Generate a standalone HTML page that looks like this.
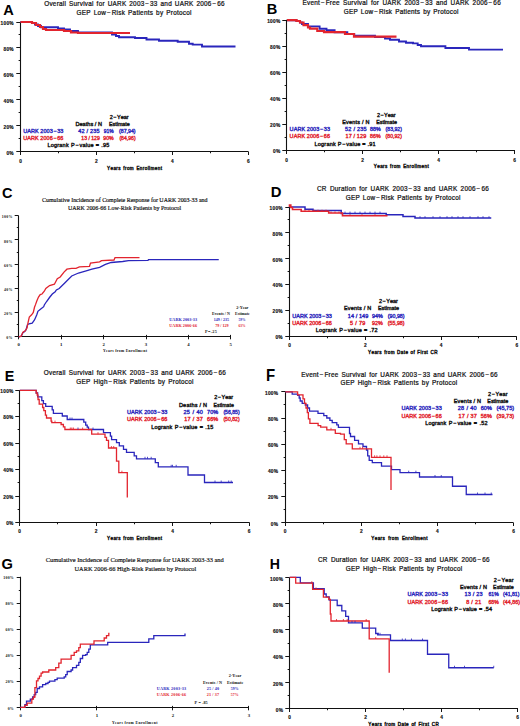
<!DOCTYPE html>
<html><head><meta charset="utf-8"><style>
html,body{margin:0;padding:0;background:#fff;}
svg{display:block;}
text{font-kerning:none;}
</style></head><body>
<svg width="520" height="726" viewBox="0 0 520 726" shape-rendering="geometricPrecision">
<rect width="520" height="726" fill="#fff"/>
<text x="3.39" y="14.70" font-family='"Liberation Sans", sans-serif' font-size="14.24" font-weight="bold" fill="#000" transform="translate(3.75 0) scale(1.025 1) translate(-3.75 0)">A</text>
<text x="44.20" y="5.64" font-family='"Liberation Sans", sans-serif' font-size="6.4" font-weight="normal" fill="#111" stroke="#111" stroke-width="0.22" letter-spacing="0.25" word-spacing="0.83">Overall Survival for UARK 2003 − 33 and UARK 2006 − 66</text>
<text x="76.50" y="15.24" font-family='"Liberation Sans", sans-serif' font-size="6.4" font-weight="normal" fill="#111" stroke="#111" stroke-width="0.22" letter-spacing="0.25" word-spacing="0.91">GEP Low − Risk Patients by Protocol</text>
<path d="M20.50,21.70V151.50H248.25" fill="none" stroke="#111" stroke-width="1.1"/>
<path d="M16.30,151.50H20.50M18.61,138.50H20.50M16.30,125.50H20.50M18.61,112.50H20.50M16.30,99.50H20.50M18.61,86.50H20.50M16.30,73.50H20.50M18.61,60.50H20.50M16.30,47.50H20.50M18.61,34.50H20.50M16.30,22.50H20.50M20.50,151.50V155.00M58.50,151.50V153.25M96.50,151.50V155.00M134.50,151.50V153.25M172.50,151.50V155.00M210.50,151.50V153.25M248.50,151.50V155.00" fill="none" stroke="#111" stroke-width="0.99"/>
<text x="13.85" y="154.72" font-family='"Liberation Sans", sans-serif' font-size="4.8" font-weight="bold" fill="#111" stroke="#111" stroke-width="0.15" text-anchor="end" letter-spacing="0.25">0%</text>
<text x="13.85" y="128.82" font-family='"Liberation Sans", sans-serif' font-size="4.8" font-weight="bold" fill="#111" stroke="#111" stroke-width="0.15" text-anchor="end" letter-spacing="0.25">20%</text>
<text x="13.85" y="102.92" font-family='"Liberation Sans", sans-serif' font-size="4.8" font-weight="bold" fill="#111" stroke="#111" stroke-width="0.15" text-anchor="end" letter-spacing="0.25">40%</text>
<text x="13.85" y="77.02" font-family='"Liberation Sans", sans-serif' font-size="4.8" font-weight="bold" fill="#111" stroke="#111" stroke-width="0.15" text-anchor="end" letter-spacing="0.25">60%</text>
<text x="13.85" y="51.12" font-family='"Liberation Sans", sans-serif' font-size="4.8" font-weight="bold" fill="#111" stroke="#111" stroke-width="0.15" text-anchor="end" letter-spacing="0.25">80%</text>
<text x="13.85" y="25.22" font-family='"Liberation Sans", sans-serif' font-size="4.8" font-weight="bold" fill="#111" stroke="#111" stroke-width="0.15" text-anchor="end" letter-spacing="0.25">100%</text>
<text x="20.50" y="162.92" font-family='"Liberation Sans", sans-serif' font-size="4.8" font-weight="bold" fill="#111" stroke="#111" stroke-width="0.15" text-anchor="middle" letter-spacing="0">0</text>
<text x="96.42" y="162.92" font-family='"Liberation Sans", sans-serif' font-size="4.8" font-weight="bold" fill="#111" stroke="#111" stroke-width="0.15" text-anchor="middle" letter-spacing="0">2</text>
<text x="172.34" y="162.92" font-family='"Liberation Sans", sans-serif' font-size="4.8" font-weight="bold" fill="#111" stroke="#111" stroke-width="0.15" text-anchor="middle" letter-spacing="0">4</text>
<text x="248.26" y="162.92" font-family='"Liberation Sans", sans-serif' font-size="4.8" font-weight="bold" fill="#111" stroke="#111" stroke-width="0.15" text-anchor="middle" letter-spacing="0">6</text>
<text x="107.00" y="169.95" font-family='"Liberation Sans", sans-serif' font-size="4.6" font-weight="normal" fill="#111" stroke="#111" stroke-width="0.38" letter-spacing="0.40" word-spacing="0.63">Years from Enrollment</text>
<path d="M20.5,22 H32 V23 H35 V24.5 H38 V26 H41 V27.3 H58 V28.5 H64 V29.5 H70 V31 H78 V32.5 H112 V34.5 H116 V36 H119 V37.2 H135 V38 H146.5 V39.5 H159 V40.7 H177.7 V41.8 H189 V43.7 H192.7 V44.6 H202 V46.5 H235.5" fill="none" stroke="#2a26bc" stroke-width="1.9" />
<path d="M20.5,22 H32 V23 H36 V25 H40 V27 H43 V29 H46 V30 H64 V31 H71 V32.5 H78 V33 H130" fill="none" stroke="#e2242e" stroke-width="2.2" />
<text x="109.80" y="118.67" font-family='"Liberation Sans", sans-serif' font-size="5.5" font-weight="normal" fill="#111" stroke="#111" stroke-width="0.38" textLength="18.90" lengthAdjust="spacing">2 − Year</text>
<text x="75.40" y="125.77" font-family='"Liberation Sans", sans-serif' font-size="5.5" font-weight="normal" fill="#111" stroke="#111" stroke-width="0.38" textLength="26.60" lengthAdjust="spacing">Deaths / N</text>
<text x="109.00" y="125.77" font-family='"Liberation Sans", sans-serif' font-size="5.5" font-weight="normal" fill="#111" stroke="#111" stroke-width="0.38" textLength="20.80" lengthAdjust="spacingAndGlyphs">Estimate</text>
<text x="23.20" y="133.07" font-family='"Liberation Sans", sans-serif' font-size="5.5" font-weight="normal" fill="#2a26bc" stroke="#2a26bc" stroke-width="0.38" textLength="40.20" lengthAdjust="spacing">UARK 2003 − 33</text>
<text x="78.20" y="133.07" font-family='"Liberation Sans", sans-serif' font-size="5.5" font-weight="normal" fill="#2a26bc" stroke="#2a26bc" stroke-width="0.38" letter-spacing="0.21" word-spacing="0.00">42 / 235</text>
<text x="103.80" y="133.07" font-family='"Liberation Sans", sans-serif' font-size="5.5" font-weight="normal" fill="#2a26bc" stroke="#2a26bc" stroke-width="0.38" textLength="9.90" lengthAdjust="spacingAndGlyphs">91%</text>
<text x="119.00" y="133.07" font-family='"Liberation Sans", sans-serif' font-size="5.5" font-weight="normal" fill="#2a26bc" stroke="#2a26bc" stroke-width="0.38" textLength="16.60" lengthAdjust="spacingAndGlyphs">(87,94)</text>
<text x="23.20" y="139.97" font-family='"Liberation Sans", sans-serif' font-size="5.5" font-weight="normal" fill="#e2242e" stroke="#e2242e" stroke-width="0.38" textLength="40.20" lengthAdjust="spacing">UARK 2006 − 66</text>
<text x="81.30" y="139.97" font-family='"Liberation Sans", sans-serif' font-size="5.5" font-weight="normal" fill="#e2242e" stroke="#e2242e" stroke-width="0.38" textLength="18.50" lengthAdjust="spacingAndGlyphs">13 / 129</text>
<text x="103.30" y="139.97" font-family='"Liberation Sans", sans-serif' font-size="5.5" font-weight="normal" fill="#e2242e" stroke="#e2242e" stroke-width="0.38" textLength="10.40" lengthAdjust="spacingAndGlyphs">90%</text>
<text x="119.40" y="139.97" font-family='"Liberation Sans", sans-serif' font-size="5.5" font-weight="normal" fill="#e2242e" stroke="#e2242e" stroke-width="0.38" textLength="16.20" lengthAdjust="spacingAndGlyphs">(84,96)</text>
<text x="47.50" y="146.97" font-family='"Liberation Sans", sans-serif' font-size="5.5" font-weight="normal" fill="#111" stroke="#111" stroke-width="0.38" letter-spacing="0.21" word-spacing="0.30">Logrank P − value = .95</text>
<text x="266.84" y="14.40" font-family='"Liberation Sans", sans-serif' font-size="14.39" font-weight="bold" fill="#000" transform="translate(267.80 0) scale(1.014 1) translate(-267.80 0)">B</text>
<text x="302.50" y="5.14" font-family='"Liberation Sans", sans-serif' font-size="6.4" font-weight="normal" fill="#111" stroke="#111" stroke-width="0.22" letter-spacing="0.25" word-spacing="1.20">Event − Free Survival for UARK 2003 − 33 and UARK 2006 − 66</text>
<text x="343.75" y="13.84" font-family='"Liberation Sans", sans-serif' font-size="6.4" font-weight="normal" fill="#111" stroke="#111" stroke-width="0.22" letter-spacing="0.25" word-spacing="0.85">GEP Low − Risk Patients by Protocol</text>
<path d="M286.50,19.70V150.50H515.00" fill="none" stroke="#111" stroke-width="1.1"/>
<path d="M282.30,150.50H286.50M284.61,137.50H286.50M282.30,124.50H286.50M284.61,111.50H286.50M282.30,98.50H286.50M284.61,85.50H286.50M282.30,72.50H286.50M284.61,59.50H286.50M282.30,46.50H286.50M284.61,33.50H286.50M282.30,20.50H286.50M286.50,150.50V154.00M324.50,150.50V152.25M362.50,150.50V154.00M400.50,150.50V152.25M438.50,150.50V154.00M476.50,150.50V152.25M514.50,150.50V154.00" fill="none" stroke="#111" stroke-width="0.99"/>
<text x="280.45" y="153.32" font-family='"Liberation Sans", sans-serif' font-size="4.8" font-weight="bold" fill="#111" stroke="#111" stroke-width="0.15" text-anchor="end" letter-spacing="0.25">0%</text>
<text x="280.45" y="127.22" font-family='"Liberation Sans", sans-serif' font-size="4.8" font-weight="bold" fill="#111" stroke="#111" stroke-width="0.15" text-anchor="end" letter-spacing="0.25">20%</text>
<text x="280.45" y="101.12" font-family='"Liberation Sans", sans-serif' font-size="4.8" font-weight="bold" fill="#111" stroke="#111" stroke-width="0.15" text-anchor="end" letter-spacing="0.25">40%</text>
<text x="280.45" y="75.02" font-family='"Liberation Sans", sans-serif' font-size="4.8" font-weight="bold" fill="#111" stroke="#111" stroke-width="0.15" text-anchor="end" letter-spacing="0.25">60%</text>
<text x="280.45" y="48.92" font-family='"Liberation Sans", sans-serif' font-size="4.8" font-weight="bold" fill="#111" stroke="#111" stroke-width="0.15" text-anchor="end" letter-spacing="0.25">80%</text>
<text x="280.45" y="22.82" font-family='"Liberation Sans", sans-serif' font-size="4.8" font-weight="bold" fill="#111" stroke="#111" stroke-width="0.15" text-anchor="end" letter-spacing="0.25">100%</text>
<text x="286.60" y="161.72" font-family='"Liberation Sans", sans-serif' font-size="4.8" font-weight="bold" fill="#111" stroke="#111" stroke-width="0.15" text-anchor="middle" letter-spacing="0">0</text>
<text x="362.60" y="161.72" font-family='"Liberation Sans", sans-serif' font-size="4.8" font-weight="bold" fill="#111" stroke="#111" stroke-width="0.15" text-anchor="middle" letter-spacing="0">2</text>
<text x="438.60" y="161.72" font-family='"Liberation Sans", sans-serif' font-size="4.8" font-weight="bold" fill="#111" stroke="#111" stroke-width="0.15" text-anchor="middle" letter-spacing="0">4</text>
<text x="514.60" y="161.72" font-family='"Liberation Sans", sans-serif' font-size="4.8" font-weight="bold" fill="#111" stroke="#111" stroke-width="0.15" text-anchor="middle" letter-spacing="0">6</text>
<text x="373.75" y="168.20" font-family='"Liberation Sans", sans-serif' font-size="4.6" font-weight="normal" fill="#111" stroke="#111" stroke-width="0.38" letter-spacing="0.40" word-spacing="0.63">Years from Enrollment</text>
<path d="M287,20.2 H296.5 V21 H300 V22.5 H302 V24 H308 V26.4 H319.6 V28.7 H326.5 V30.3 H334.6 V32.2 H347.3 V34 H354.2 V35.6 H375 V37 H385 V38.5 H390 V39.7 H399 V41.5 H406 V42.7 H413 V43.4 H417.7 V45 H421 V46.2 H445.4 V48 H469 V49.6 H503" fill="none" stroke="#2a26bc" stroke-width="1.9" />
<path d="M287,20.2 H296.5 V21 H300 V22.5 H303.5 V25.2 H308 V27.5 H310 V28.7 H317.3 V31 H324 V32.2 H345 V34 H354 V36.6 H396.5" fill="none" stroke="#e2242e" stroke-width="2.2" />
<text x="376.90" y="116.97" font-family='"Liberation Sans", sans-serif' font-size="5.5" font-weight="normal" fill="#111" stroke="#111" stroke-width="0.38" textLength="18.70" lengthAdjust="spacing">2 − Year</text>
<text x="342.25" y="124.07" font-family='"Liberation Sans", sans-serif' font-size="5.5" font-weight="normal" fill="#111" stroke="#111" stroke-width="0.38" textLength="27.15" lengthAdjust="spacing">Events / N</text>
<text x="376.25" y="124.07" font-family='"Liberation Sans", sans-serif' font-size="5.5" font-weight="normal" fill="#111" stroke="#111" stroke-width="0.38" textLength="20.65" lengthAdjust="spacingAndGlyphs">Estimate</text>
<text x="289.60" y="131.47" font-family='"Liberation Sans", sans-serif' font-size="5.5" font-weight="normal" fill="#2a26bc" stroke="#2a26bc" stroke-width="0.38" textLength="40.40" lengthAdjust="spacing">UARK 2003 − 33</text>
<text x="345.00" y="131.47" font-family='"Liberation Sans", sans-serif' font-size="5.5" font-weight="normal" fill="#2a26bc" stroke="#2a26bc" stroke-width="0.38" letter-spacing="0.21" word-spacing="0.15">52 / 235</text>
<text x="370.00" y="131.47" font-family='"Liberation Sans", sans-serif' font-size="5.5" font-weight="normal" fill="#2a26bc" stroke="#2a26bc" stroke-width="0.38" textLength="10.60" lengthAdjust="spacingAndGlyphs">88%</text>
<text x="385.60" y="131.47" font-family='"Liberation Sans", sans-serif' font-size="5.5" font-weight="normal" fill="#2a26bc" stroke="#2a26bc" stroke-width="0.38" textLength="16.30" lengthAdjust="spacingAndGlyphs">(83,92)</text>
<text x="289.60" y="138.37" font-family='"Liberation Sans", sans-serif' font-size="5.5" font-weight="normal" fill="#e2242e" stroke="#e2242e" stroke-width="0.38" textLength="40.40" lengthAdjust="spacing">UARK 2006 − 66</text>
<text x="345.60" y="138.37" font-family='"Liberation Sans", sans-serif' font-size="5.5" font-weight="normal" fill="#e2242e" stroke="#e2242e" stroke-width="0.38" textLength="20.65" lengthAdjust="spacing">17 / 129</text>
<text x="370.00" y="138.37" font-family='"Liberation Sans", sans-serif' font-size="5.5" font-weight="normal" fill="#e2242e" stroke="#e2242e" stroke-width="0.38" textLength="10.60" lengthAdjust="spacingAndGlyphs">86%</text>
<text x="385.60" y="138.37" font-family='"Liberation Sans", sans-serif' font-size="5.5" font-weight="normal" fill="#e2242e" stroke="#e2242e" stroke-width="0.38" textLength="16.30" lengthAdjust="spacingAndGlyphs">(80,92)</text>
<text x="314.50" y="145.57" font-family='"Liberation Sans", sans-serif' font-size="5.5" font-weight="normal" fill="#111" stroke="#111" stroke-width="0.38" textLength="61.10" lengthAdjust="spacing">Logrank P − value = .91</text>
<text x="1.98" y="197.55" font-family='"Liberation Sans", sans-serif' font-size="15.11" font-weight="bold" fill="#000" transform="translate(2.60 0) scale(0.961 1) translate(-2.60 0)">C</text>
<text x="42.00" y="201.89" font-family='"Liberation Serif", serif' font-size="6.3" font-weight="normal" fill="#111" stroke="#111" stroke-width="0.18" textLength="165.50" lengthAdjust="spacingAndGlyphs">Cumulative Incidence of Complete Response for UARK 2003-33 and</text>
<text x="68.00" y="210.49" font-family='"Liberation Serif", serif' font-size="6.3" font-weight="normal" fill="#111" stroke="#111" stroke-width="0.18" textLength="113.25" lengthAdjust="spacingAndGlyphs">UARK 2006-66 Low-Risk Patients by Protocol</text>
<path d="M18.50,215.50V336.50H230.80" fill="none" stroke="#111" stroke-width="1.1"/>
<path d="M14.70,336.50H18.50M16.79,324.50H18.50M14.70,312.50H18.50M16.79,300.50H18.50M14.70,288.50H18.50M16.79,276.50H18.50M14.70,264.50H18.50M16.79,252.50H18.50M14.70,239.50H18.50M16.79,227.50H18.50M14.70,215.50H18.50M18.50,334.90V339.30M61.50,334.90V339.30M103.50,334.90V339.30M146.50,334.90V339.30M188.50,334.90V339.30M230.50,334.90V339.30" fill="none" stroke="#111" stroke-width="0.99"/>
<text x="12.55" y="339.09" font-family='"Liberation Serif", serif' font-size="3.9" font-weight="bold" fill="#111" text-anchor="end" letter-spacing="0.25">0%</text>
<text x="12.55" y="314.95" font-family='"Liberation Serif", serif' font-size="3.9" font-weight="bold" fill="#111" text-anchor="end" letter-spacing="0.25">20%</text>
<text x="12.55" y="290.81" font-family='"Liberation Serif", serif' font-size="3.9" font-weight="bold" fill="#111" text-anchor="end" letter-spacing="0.25">40%</text>
<text x="12.55" y="266.67" font-family='"Liberation Serif", serif' font-size="3.9" font-weight="bold" fill="#111" text-anchor="end" letter-spacing="0.25">60%</text>
<text x="12.55" y="242.53" font-family='"Liberation Serif", serif' font-size="3.9" font-weight="bold" fill="#111" text-anchor="end" letter-spacing="0.25">80%</text>
<text x="12.55" y="218.39" font-family='"Liberation Serif", serif' font-size="3.9" font-weight="bold" fill="#111" text-anchor="end" letter-spacing="0.25">100%</text>
<text x="18.80" y="346.39" font-family='"Liberation Serif", serif' font-size="4.8" font-weight="bold" fill="#111" text-anchor="middle" letter-spacing="0">0</text>
<text x="61.20" y="346.39" font-family='"Liberation Serif", serif' font-size="4.8" font-weight="bold" fill="#111" text-anchor="middle" letter-spacing="0">1</text>
<text x="103.60" y="346.39" font-family='"Liberation Serif", serif' font-size="4.8" font-weight="bold" fill="#111" text-anchor="middle" letter-spacing="0">2</text>
<text x="146.00" y="346.39" font-family='"Liberation Serif", serif' font-size="4.8" font-weight="bold" fill="#111" text-anchor="middle" letter-spacing="0">3</text>
<text x="188.40" y="346.39" font-family='"Liberation Serif", serif' font-size="4.8" font-weight="bold" fill="#111" text-anchor="middle" letter-spacing="0">4</text>
<text x="230.80" y="346.39" font-family='"Liberation Serif", serif' font-size="4.8" font-weight="bold" fill="#111" text-anchor="middle" letter-spacing="0">5</text>
<text x="103.00" y="352.01" font-family='"Liberation Serif", serif' font-size="3.8" font-weight="bold" fill="#111" textLength="44.00" lengthAdjust="spacing">Years from Enrollment</text>
<path d="M18.80,336.80 L21.20,336.20 L22.90,332.70 L24.70,331.50 L26.00,330.00 L27.50,324.60 L29.00,323.80 L32.20,323.20 L34.50,320.00 L36.80,314.80 L37.90,311.30 L41.40,308.50 L43.70,306.70 L44.30,305.00 L46.60,301.50 L49.50,297.50 L52.30,294.00 L55.20,291.70 L56.40,290.00 L59.20,288.50 L65.00,282.70 L71.70,276.00 L78.50,273.00 L86.20,270.80 L91.90,269.20 L99.60,267.30 L105.40,264.40 L111.20,262.50 L122.70,261.50 L128.50,260.60 L148.00,260.40 L148.50,259.60 L218.75,259.60" fill="none" stroke="#2a26bc" stroke-width="1.3" />
<path d="M18.80,336.80 L21.20,336.20 L22.90,332.10 L25.00,331.00 L27.00,328.00 L28.10,322.30 L29.30,317.10 L31.60,314.80 L33.30,312.50 L34.50,307.30 L35.60,304.40 L36.80,301.00 L38.50,297.00 L40.20,294.60 L42.00,294.00 L44.30,291.20 L45.80,288.50 L49.60,285.60 L54.40,284.20 L57.30,278.80 L60.20,277.00 L64.00,272.10 L66.90,269.20 L71.70,268.30 L76.00,268.30 L79.40,266.90 L89.50,266.30 L90.50,263.10 L99.60,261.90 L101.50,260.60 L114.00,260.00 L115.00,257.70 L139.50,257.70" fill="none" stroke="#e2242e" stroke-width="1.3" />
<text x="236.30" y="308.69" font-family='"Liberation Serif", serif' font-size="4.2" font-weight="bold" fill="#111" textLength="12.10" lengthAdjust="spacing">2-Year</text>
<text x="212.10" y="314.69" font-family='"Liberation Serif", serif' font-size="4.2" font-weight="bold" fill="#111" textLength="17.80" lengthAdjust="spacingAndGlyphs">Events / N</text>
<text x="235.10" y="314.69" font-family='"Liberation Serif", serif' font-size="4.2" font-weight="bold" fill="#111" textLength="14.70" lengthAdjust="spacingAndGlyphs">Estimate</text>
<text x="169.30" y="320.79" font-family='"Liberation Serif", serif' font-size="4.2" font-weight="bold" fill="#2a26bc" textLength="27.70" lengthAdjust="spacing">UARK 2003-33</text>
<text x="213.80" y="320.79" font-family='"Liberation Serif", serif' font-size="4.2" font-weight="bold" fill="#2a26bc" textLength="15.20" lengthAdjust="spacingAndGlyphs">149 / 235</text>
<text x="238.50" y="320.79" font-family='"Liberation Serif", serif' font-size="4.2" font-weight="bold" fill="#2a26bc" textLength="7.00" lengthAdjust="spacingAndGlyphs">59%</text>
<text x="169.30" y="326.99" font-family='"Liberation Serif", serif' font-size="4.2" font-weight="bold" fill="#e2242e" textLength="27.70" lengthAdjust="spacing">UARK 2006-66</text>
<text x="215.20" y="326.99" font-family='"Liberation Serif", serif' font-size="4.2" font-weight="bold" fill="#e2242e" textLength="13.50" lengthAdjust="spacingAndGlyphs">79 / 129</text>
<text x="238.50" y="326.99" font-family='"Liberation Serif", serif' font-size="4.2" font-weight="bold" fill="#e2242e" textLength="7.00" lengthAdjust="spacingAndGlyphs">63%</text>
<text x="205.10" y="332.89" font-family='"Liberation Serif", serif' font-size="4.2" font-weight="bold" fill="#111" textLength="11.80" lengthAdjust="spacing">P=.25</text>
<text x="270.81" y="197.10" font-family='"Liberation Sans", sans-serif' font-size="14.83" font-weight="bold" fill="#000" transform="translate(271.80 0) scale(1.001 1) translate(-271.80 0)">D</text>
<text x="317.00" y="190.69" font-family='"Liberation Sans", sans-serif' font-size="6.4" font-weight="normal" fill="#111" stroke="#111" stroke-width="0.22" letter-spacing="0.25" word-spacing="1.15">CR Duration for UARK 2003 − 33 and UARK 2006 − 66</text>
<text x="345.75" y="199.74" font-family='"Liberation Sans", sans-serif' font-size="6.4" font-weight="normal" fill="#111" stroke="#111" stroke-width="0.22" letter-spacing="0.25" word-spacing="0.85">GEP Low − Risk Patients by Protocol</text>
<path d="M289.50,206.70V336.50H516.75" fill="none" stroke="#111" stroke-width="1.1"/>
<path d="M285.30,336.50H289.50M287.61,323.50H289.50M285.30,310.50H289.50M287.61,297.50H289.50M285.30,284.50H289.50M287.61,271.50H289.50M285.30,258.50H289.50M287.61,245.50H289.50M285.30,232.50H289.50M287.61,219.50H289.50M285.30,207.50H289.50M289.50,336.50V340.00M327.50,336.50V338.25M365.50,336.50V340.00M403.50,336.50V338.25M441.50,336.50V340.00M478.50,336.50V338.25M516.50,336.50V340.00" fill="none" stroke="#111" stroke-width="0.99"/>
<text x="282.85" y="339.22" font-family='"Liberation Sans", sans-serif' font-size="4.8" font-weight="bold" fill="#111" stroke="#111" stroke-width="0.15" text-anchor="end" letter-spacing="0.25">0%</text>
<text x="282.85" y="313.32" font-family='"Liberation Sans", sans-serif' font-size="4.8" font-weight="bold" fill="#111" stroke="#111" stroke-width="0.15" text-anchor="end" letter-spacing="0.25">20%</text>
<text x="282.85" y="287.42" font-family='"Liberation Sans", sans-serif' font-size="4.8" font-weight="bold" fill="#111" stroke="#111" stroke-width="0.15" text-anchor="end" letter-spacing="0.25">40%</text>
<text x="282.85" y="261.52" font-family='"Liberation Sans", sans-serif' font-size="4.8" font-weight="bold" fill="#111" stroke="#111" stroke-width="0.15" text-anchor="end" letter-spacing="0.25">60%</text>
<text x="282.85" y="235.62" font-family='"Liberation Sans", sans-serif' font-size="4.8" font-weight="bold" fill="#111" stroke="#111" stroke-width="0.15" text-anchor="end" letter-spacing="0.25">80%</text>
<text x="282.85" y="209.72" font-family='"Liberation Sans", sans-serif' font-size="4.8" font-weight="bold" fill="#111" stroke="#111" stroke-width="0.15" text-anchor="end" letter-spacing="0.25">100%</text>
<text x="289.50" y="347.47" font-family='"Liberation Sans", sans-serif' font-size="4.8" font-weight="bold" fill="#111" stroke="#111" stroke-width="0.15" text-anchor="middle" letter-spacing="0">0</text>
<text x="365.25" y="347.47" font-family='"Liberation Sans", sans-serif' font-size="4.8" font-weight="bold" fill="#111" stroke="#111" stroke-width="0.15" text-anchor="middle" letter-spacing="0">2</text>
<text x="441.00" y="347.47" font-family='"Liberation Sans", sans-serif' font-size="4.8" font-weight="bold" fill="#111" stroke="#111" stroke-width="0.15" text-anchor="middle" letter-spacing="0">4</text>
<text x="516.75" y="347.47" font-family='"Liberation Sans", sans-serif' font-size="4.8" font-weight="bold" fill="#111" stroke="#111" stroke-width="0.15" text-anchor="middle" letter-spacing="0">6</text>
<text x="368.00" y="354.45" font-family='"Liberation Sans", sans-serif' font-size="4.6" font-weight="normal" fill="#111" stroke="#111" stroke-width="0.38" letter-spacing="0.40" word-spacing="0.48">Years from Date of First CR</text>
<path d="M289.5,207 H305 V209.3 H313 V210.5 H341.2 V213.4 H386.2 V214.8 H403 V216.4 H415 V218.1 H491.25" fill="none" stroke="#2a26bc" stroke-width="1.5" />
<path d="M289.5,207 V205 H290.8 V207.5 H292.5 V209.5 H301.2 V211.3 H328.7 V213 H342.5 V215.7 H387.5" fill="none" stroke="#e2242e" stroke-width="1.6" />
<path d="M305.00,211.30V209.70M309.00,211.30V209.70M314.00,211.30V209.70M318.00,211.30V209.70M322.00,211.30V209.70M326.00,211.30V209.70M331.00,213.00V211.40M335.00,213.00V211.40M339.00,213.00V211.40M350.00,215.70V214.10M362.00,215.70V214.10M375.00,215.70V214.10" stroke="#e2242e" stroke-width="0.8" fill="none"/>
<path d="M345.00,213.40V211.60M350.00,213.40V211.60M355.00,213.40V211.60M360.00,213.40V211.60M365.00,213.40V211.60M370.00,213.40V211.60M375.00,213.40V211.60M380.00,213.40V211.60M420.00,218.00V216.20M425.00,218.00V216.20M433.00,218.00V216.20M440.00,218.00V216.20M447.00,218.00V216.20M452.00,218.00V216.20M458.00,218.00V216.20M463.00,218.00V216.20M470.00,218.00V216.20M478.00,218.00V216.20M483.00,218.00V216.20M489.00,218.00V216.20" stroke="#2a26bc" stroke-width="0.8" fill="none"/>
<text x="379.00" y="303.37" font-family='"Liberation Sans", sans-serif' font-size="5.5" font-weight="normal" fill="#111" stroke="#111" stroke-width="0.38" textLength="18.90" lengthAdjust="spacing">2 − Year</text>
<text x="344.00" y="310.17" font-family='"Liberation Sans", sans-serif' font-size="5.5" font-weight="normal" fill="#111" stroke="#111" stroke-width="0.38" textLength="27.20" lengthAdjust="spacing">Events / N</text>
<text x="378.00" y="310.17" font-family='"Liberation Sans", sans-serif' font-size="5.5" font-weight="normal" fill="#111" stroke="#111" stroke-width="0.38" textLength="21.00" lengthAdjust="spacingAndGlyphs">Estimate</text>
<text x="292.20" y="317.77" font-family='"Liberation Sans", sans-serif' font-size="5.5" font-weight="normal" fill="#2a26bc" stroke="#2a26bc" stroke-width="0.38" textLength="39.60" lengthAdjust="spacing">UARK 2003 − 33</text>
<text x="347.80" y="317.77" font-family='"Liberation Sans", sans-serif' font-size="5.5" font-weight="normal" fill="#2a26bc" stroke="#2a26bc" stroke-width="0.38" textLength="20.50" lengthAdjust="spacing">14 / 149</text>
<text x="372.00" y="317.77" font-family='"Liberation Sans", sans-serif' font-size="5.5" font-weight="normal" fill="#2a26bc" stroke="#2a26bc" stroke-width="0.38" textLength="10.80" lengthAdjust="spacingAndGlyphs">94%</text>
<text x="387.80" y="317.77" font-family='"Liberation Sans", sans-serif' font-size="5.5" font-weight="normal" fill="#2a26bc" stroke="#2a26bc" stroke-width="0.38" textLength="16.80" lengthAdjust="spacingAndGlyphs">(90,98)</text>
<text x="292.20" y="324.77" font-family='"Liberation Sans", sans-serif' font-size="5.5" font-weight="normal" fill="#e2242e" stroke="#e2242e" stroke-width="0.38" textLength="39.60" lengthAdjust="spacing">UARK 2006 − 66</text>
<text x="350.10" y="324.77" font-family='"Liberation Sans", sans-serif' font-size="5.5" font-weight="normal" fill="#e2242e" stroke="#e2242e" stroke-width="0.38" letter-spacing="0.21" word-spacing="0.23">5 / 79</text>
<text x="372.00" y="324.77" font-family='"Liberation Sans", sans-serif' font-size="5.5" font-weight="normal" fill="#e2242e" stroke="#e2242e" stroke-width="0.38" textLength="10.80" lengthAdjust="spacingAndGlyphs">92%</text>
<text x="387.80" y="324.77" font-family='"Liberation Sans", sans-serif' font-size="5.5" font-weight="normal" fill="#e2242e" stroke="#e2242e" stroke-width="0.38" textLength="16.80" lengthAdjust="spacingAndGlyphs">(55,98)</text>
<text x="315.70" y="331.87" font-family='"Liberation Sans", sans-serif' font-size="5.5" font-weight="normal" fill="#111" stroke="#111" stroke-width="0.38" letter-spacing="0.21" word-spacing="0.36">Logrank P − value = .72</text>
<text x="4.82" y="381.00" font-family='"Liberation Sans", sans-serif' font-size="14.68" font-weight="bold" fill="#000" transform="translate(5.80 0) scale(0.977 1) translate(-5.80 0)">E</text>
<text x="43.75" y="375.19" font-family='"Liberation Sans", sans-serif' font-size="6.4" font-weight="normal" fill="#111" stroke="#111" stroke-width="0.22" letter-spacing="0.25" word-spacing="1.07">Overall Survival for UARK 2003 − 33 and UARK 2006 − 66</text>
<text x="76.25" y="384.24" font-family='"Liberation Sans", sans-serif' font-size="6.4" font-weight="normal" fill="#111" stroke="#111" stroke-width="0.22" letter-spacing="0.25" word-spacing="1.05">GEP High − Risk Patients by Protocol</text>
<path d="M19.50,389.90V522.50H249.50" fill="none" stroke="#111" stroke-width="1.1"/>
<path d="M15.30,522.50H19.50M17.61,509.50H19.50M15.30,496.50H19.50M17.61,482.50H19.50M15.30,469.50H19.50M17.61,456.50H19.50M15.30,443.50H19.50M17.61,429.50H19.50M15.30,416.50H19.50M17.61,403.50H19.50M15.30,390.50H19.50M19.50,522.50V526.00M57.50,522.50V524.25M96.50,522.50V526.00M134.50,522.50V524.25M172.50,522.50V526.00M210.50,522.50V524.25M249.50,522.50V526.00" fill="none" stroke="#111" stroke-width="0.99"/>
<text x="13.65" y="525.02" font-family='"Liberation Sans", sans-serif' font-size="4.8" font-weight="bold" fill="#111" stroke="#111" stroke-width="0.15" text-anchor="end" letter-spacing="0.25">0%</text>
<text x="13.65" y="498.56" font-family='"Liberation Sans", sans-serif' font-size="4.8" font-weight="bold" fill="#111" stroke="#111" stroke-width="0.15" text-anchor="end" letter-spacing="0.25">20%</text>
<text x="13.65" y="472.10" font-family='"Liberation Sans", sans-serif' font-size="4.8" font-weight="bold" fill="#111" stroke="#111" stroke-width="0.15" text-anchor="end" letter-spacing="0.25">40%</text>
<text x="13.65" y="445.64" font-family='"Liberation Sans", sans-serif' font-size="4.8" font-weight="bold" fill="#111" stroke="#111" stroke-width="0.15" text-anchor="end" letter-spacing="0.25">60%</text>
<text x="13.65" y="419.18" font-family='"Liberation Sans", sans-serif' font-size="4.8" font-weight="bold" fill="#111" stroke="#111" stroke-width="0.15" text-anchor="end" letter-spacing="0.25">80%</text>
<text x="13.65" y="392.72" font-family='"Liberation Sans", sans-serif' font-size="4.8" font-weight="bold" fill="#111" stroke="#111" stroke-width="0.15" text-anchor="end" letter-spacing="0.25">100%</text>
<text x="19.60" y="532.97" font-family='"Liberation Sans", sans-serif' font-size="4.8" font-weight="bold" fill="#111" stroke="#111" stroke-width="0.15" text-anchor="middle" letter-spacing="0">0</text>
<text x="96.10" y="532.97" font-family='"Liberation Sans", sans-serif' font-size="4.8" font-weight="bold" fill="#111" stroke="#111" stroke-width="0.15" text-anchor="middle" letter-spacing="0">2</text>
<text x="172.60" y="532.97" font-family='"Liberation Sans", sans-serif' font-size="4.8" font-weight="bold" fill="#111" stroke="#111" stroke-width="0.15" text-anchor="middle" letter-spacing="0">4</text>
<text x="249.10" y="532.97" font-family='"Liberation Sans", sans-serif' font-size="4.8" font-weight="bold" fill="#111" stroke="#111" stroke-width="0.15" text-anchor="middle" letter-spacing="0">6</text>
<text x="107.00" y="539.95" font-family='"Liberation Sans", sans-serif' font-size="4.6" font-weight="normal" fill="#111" stroke="#111" stroke-width="0.38" letter-spacing="0.40" word-spacing="0.63">Years from Enrollment</text>
<path d="M19.8,390.3 H36.2 V393 H37.7 V396.8 H41.8 V400.6 H43.4 V403.7 H45.7 V406.3 H52.2 V409.8 H53.4 V413.4 H62.3 V416 H67.2 V419.5 H83.8 V422.2 H85.7 V425.2 H87.2 V427.2 H88.5 V429.5 H103.5 V432.7 H110.4 V436.1 H111.6 V439.6 H116.5 V442.7 H119.3 V445.8 H123.5 V449.3 H126.5 V452.4 H134.2 V455.8 H136.5 V458.8 H155.3 V462.7 H158.3 V466.8 H188 V475 H204.5 V482.5 H233" fill="none" stroke="#2a26bc" stroke-width="1.3" />
<path d="M19.8,390.3 H36.2 V393 H37.2 V395.2 H38 V399.5 H39.2 V404.2 H42.6 V407.5 H43.8 V410.6 H45.4 V415.2 H46.5 V418 H51.1 V421.1 H51.8 V422.6 H61.1 V424.5 H63.4 V426.8 H64.9 V429.5 H91.7 V434.2 H105 V437.3 H106.5 V440.4 H108.5 V448 H116.5 V461.2 H118.8 V472.7 H127.3 V497.5" fill="none" stroke="#e2242e" stroke-width="1.3" />
<path d="M145.00,458.80V456.80M147.50,458.80V456.80M151.20,458.80V456.80M171.20,466.80V464.80M172.50,466.80V464.80M176.20,466.80V464.80M215.00,482.50V480.50M221.20,482.50V480.50M228.70,482.50V480.50M231.20,482.50V480.50M78.00,429.50V427.50M93.00,429.50V427.50M70.00,419.50V417.50M72.00,419.50V417.50" stroke="#2a26bc" stroke-width="0.8" fill="none"/>
<path d="M70.30,429.50V427.50M71.80,429.50V427.50M73.40,429.50V427.50M82.60,429.50V427.50M111.40,448.00V446.00M113.70,448.00V446.00M121.90,472.70V470.70M55.00,422.60V420.60M98.00,434.20V432.20" stroke="#e2242e" stroke-width="0.8" fill="none"/>
<text x="214.20" y="399.47" font-family='"Liberation Sans", sans-serif' font-size="5.5" font-weight="normal" fill="#111" stroke="#111" stroke-width="0.38" textLength="19.00" lengthAdjust="spacing">2 − Year</text>
<text x="178.90" y="406.77" font-family='"Liberation Sans", sans-serif' font-size="5.5" font-weight="normal" fill="#111" stroke="#111" stroke-width="0.38" textLength="28.10" lengthAdjust="spacing">Deaths / N</text>
<text x="213.60" y="406.77" font-family='"Liberation Sans", sans-serif' font-size="5.5" font-weight="normal" fill="#111" stroke="#111" stroke-width="0.38" textLength="20.20" lengthAdjust="spacingAndGlyphs">Estimate</text>
<text x="126.90" y="414.27" font-family='"Liberation Sans", sans-serif' font-size="5.5" font-weight="normal" fill="#2a26bc" stroke="#2a26bc" stroke-width="0.38" textLength="40.50" lengthAdjust="spacing">UARK 2003 − 33</text>
<text x="183.50" y="414.27" font-family='"Liberation Sans", sans-serif' font-size="5.5" font-weight="normal" fill="#2a26bc" stroke="#2a26bc" stroke-width="0.38" letter-spacing="0.21" word-spacing="0.64">25 / 40</text>
<text x="207.00" y="414.27" font-family='"Liberation Sans", sans-serif' font-size="5.5" font-weight="normal" fill="#2a26bc" stroke="#2a26bc" stroke-width="0.38" textLength="11.20" lengthAdjust="spacing">70%</text>
<text x="223.40" y="414.27" font-family='"Liberation Sans", sans-serif' font-size="5.5" font-weight="normal" fill="#2a26bc" stroke="#2a26bc" stroke-width="0.38" textLength="16.30" lengthAdjust="spacingAndGlyphs">(56,85)</text>
<text x="126.90" y="421.47" font-family='"Liberation Sans", sans-serif' font-size="5.5" font-weight="normal" fill="#e2242e" stroke="#e2242e" stroke-width="0.38" textLength="40.50" lengthAdjust="spacing">UARK 2006 − 66</text>
<text x="184.20" y="421.47" font-family='"Liberation Sans", sans-serif' font-size="5.5" font-weight="normal" fill="#e2242e" stroke="#e2242e" stroke-width="0.38" letter-spacing="0.21" word-spacing="0.29">17 / 37</text>
<text x="207.00" y="421.47" font-family='"Liberation Sans", sans-serif' font-size="5.5" font-weight="normal" fill="#e2242e" stroke="#e2242e" stroke-width="0.38" textLength="11.20" lengthAdjust="spacing">66%</text>
<text x="223.40" y="421.47" font-family='"Liberation Sans", sans-serif' font-size="5.5" font-weight="normal" fill="#e2242e" stroke="#e2242e" stroke-width="0.38" textLength="16.30" lengthAdjust="spacingAndGlyphs">(50,82)</text>
<text x="151.20" y="428.57" font-family='"Liberation Sans", sans-serif' font-size="5.5" font-weight="normal" fill="#111" stroke="#111" stroke-width="0.38" letter-spacing="0.21" word-spacing="0.40">Logrank P − value = .15</text>
<text x="266.04" y="380.90" font-family='"Liberation Sans", sans-serif' font-size="15.84" font-weight="bold" fill="#000" transform="translate(267.10 0) scale(0.946 1) translate(-267.10 0)">F</text>
<text x="301.25" y="376.94" font-family='"Liberation Sans", sans-serif' font-size="6.4" font-weight="normal" fill="#111" stroke="#111" stroke-width="0.22" letter-spacing="0.25" word-spacing="0.92">Event − Free Survival for UARK 2003 − 33 and UARK 2006 − 66</text>
<text x="340.50" y="385.14" font-family='"Liberation Sans", sans-serif' font-size="6.4" font-weight="normal" fill="#111" stroke="#111" stroke-width="0.22" letter-spacing="0.25" word-spacing="0.93">GEP High − Risk Patients by Protocol</text>
<path d="M285.50,391.60V522.50H513.25" fill="none" stroke="#111" stroke-width="1.1"/>
<path d="M281.30,522.50H285.50M283.61,509.50H285.50M281.30,496.50H285.50M283.61,483.50H285.50M281.30,470.50H285.50M283.61,457.50H285.50M281.30,444.50H285.50M283.61,431.50H285.50M281.30,418.50H285.50M283.61,404.50H285.50M281.30,391.50H285.50M285.50,522.50V526.00M323.50,522.50V524.25M361.50,522.50V526.00M399.50,522.50V524.25M437.50,522.50V526.00M475.50,522.50V524.25M513.50,522.50V526.00" fill="none" stroke="#111" stroke-width="0.99"/>
<text x="278.25" y="525.52" font-family='"Liberation Sans", sans-serif' font-size="4.8" font-weight="bold" fill="#111" stroke="#111" stroke-width="0.15" text-anchor="end" letter-spacing="0.25">0%</text>
<text x="278.25" y="499.40" font-family='"Liberation Sans", sans-serif' font-size="4.8" font-weight="bold" fill="#111" stroke="#111" stroke-width="0.15" text-anchor="end" letter-spacing="0.25">20%</text>
<text x="278.25" y="473.28" font-family='"Liberation Sans", sans-serif' font-size="4.8" font-weight="bold" fill="#111" stroke="#111" stroke-width="0.15" text-anchor="end" letter-spacing="0.25">40%</text>
<text x="278.25" y="447.16" font-family='"Liberation Sans", sans-serif' font-size="4.8" font-weight="bold" fill="#111" stroke="#111" stroke-width="0.15" text-anchor="end" letter-spacing="0.25">60%</text>
<text x="278.25" y="421.04" font-family='"Liberation Sans", sans-serif' font-size="4.8" font-weight="bold" fill="#111" stroke="#111" stroke-width="0.15" text-anchor="end" letter-spacing="0.25">80%</text>
<text x="278.25" y="394.92" font-family='"Liberation Sans", sans-serif' font-size="4.8" font-weight="bold" fill="#111" stroke="#111" stroke-width="0.15" text-anchor="end" letter-spacing="0.25">100%</text>
<text x="285.20" y="532.97" font-family='"Liberation Sans", sans-serif' font-size="4.8" font-weight="bold" fill="#111" stroke="#111" stroke-width="0.15" text-anchor="middle" letter-spacing="0">0</text>
<text x="361.30" y="532.97" font-family='"Liberation Sans", sans-serif' font-size="4.8" font-weight="bold" fill="#111" stroke="#111" stroke-width="0.15" text-anchor="middle" letter-spacing="0">2</text>
<text x="437.40" y="532.97" font-family='"Liberation Sans", sans-serif' font-size="4.8" font-weight="bold" fill="#111" stroke="#111" stroke-width="0.15" text-anchor="middle" letter-spacing="0">4</text>
<text x="513.50" y="532.97" font-family='"Liberation Sans", sans-serif' font-size="4.8" font-weight="bold" fill="#111" stroke="#111" stroke-width="0.15" text-anchor="middle" letter-spacing="0">6</text>
<text x="371.25" y="539.95" font-family='"Liberation Sans", sans-serif' font-size="4.6" font-weight="normal" fill="#111" stroke="#111" stroke-width="0.38" letter-spacing="0.40" word-spacing="1.26">Years from Enrollment</text>
<path d="M285.3,391.8 H292.2 V394.2 H297.6 V395.4 H299.2 V398 H300.2 V401 H302.2 V403.4 H305.3 V405 H307.6 V408 H309.5 V411.1 H318 V413.4 H323.8 V415.7 H326.8 V418 H329.9 V420.3 H332.2 V422.6 H336.8 V424.9 H338.4 V427.3 H349.5 V433.5 H350.5 V436.5 H354.6 V440.4 H358.5 V443.8 H363 V446.5 H366.5 V450 H367.7 V455.8 H369.2 V460.4 H372.3 V462.7 H381.5 V466.2 H391.5 V469.6 H400 V472.7 H419.5 V477 H452.5 V486.25 H466.25 V494.5 H492.5" fill="none" stroke="#2a26bc" stroke-width="1.3" />
<path d="M285.3,391.8 H297.6 V394.9 H303 V398.8 H304.5 V403.4 H306 V408 H307.3 V412.6 H308.4 V418.8 H309.9 V423.4 H318.1 V425.7 H320.7 V427.2 H326.8 V429.8 H335.3 V433.4 H340.5 V434.2 H344.3 V439.6 H346.2 V443.8 H352.3 V448.8 H371.5 V457.3 H391 V490" fill="none" stroke="#e2242e" stroke-width="1.3" />
<path d="M408.70,472.70V470.70M415.90,472.70V470.70M435.00,477.00V475.00M441.25,477.00V475.00M477.50,494.50V492.50M485.00,494.50V492.50M491.25,494.50V492.50" stroke="#2a26bc" stroke-width="0.8" fill="none"/>
<path d="M360.00,448.80V446.80M362.50,448.80V446.80M374.60,457.30V455.30M376.90,457.30V455.30M380.00,457.30V455.30M383.80,457.30V455.30M387.00,457.30V455.30M331.00,429.80V427.80" stroke="#e2242e" stroke-width="0.8" fill="none"/>
<text x="487.90" y="395.87" font-family='"Liberation Sans", sans-serif' font-size="5.5" font-weight="normal" fill="#111" stroke="#111" stroke-width="0.38" textLength="19.60" lengthAdjust="spacing">2 − Year</text>
<text x="453.70" y="403.07" font-family='"Liberation Sans", sans-serif' font-size="5.5" font-weight="normal" fill="#111" stroke="#111" stroke-width="0.38" textLength="27.40" lengthAdjust="spacing">Events / N</text>
<text x="487.30" y="403.07" font-family='"Liberation Sans", sans-serif' font-size="5.5" font-weight="normal" fill="#111" stroke="#111" stroke-width="0.38" textLength="20.90" lengthAdjust="spacingAndGlyphs">Estimate</text>
<text x="401.50" y="410.47" font-family='"Liberation Sans", sans-serif' font-size="5.5" font-weight="normal" fill="#2a26bc" stroke="#2a26bc" stroke-width="0.38" textLength="40.30" lengthAdjust="spacing">UARK 2003 − 33</text>
<text x="457.80" y="410.47" font-family='"Liberation Sans", sans-serif' font-size="5.5" font-weight="normal" fill="#2a26bc" stroke="#2a26bc" stroke-width="0.38" letter-spacing="0.21" word-spacing="0.34">28 / 40</text>
<text x="480.70" y="410.47" font-family='"Liberation Sans", sans-serif' font-size="5.5" font-weight="normal" fill="#2a26bc" stroke="#2a26bc" stroke-width="0.38" textLength="11.10" lengthAdjust="spacing">60%</text>
<text x="496.40" y="410.47" font-family='"Liberation Sans", sans-serif' font-size="5.5" font-weight="normal" fill="#2a26bc" stroke="#2a26bc" stroke-width="0.38" textLength="17.70" lengthAdjust="spacing">(45,75)</text>
<text x="401.50" y="417.87" font-family='"Liberation Sans", sans-serif' font-size="5.5" font-weight="normal" fill="#e2242e" stroke="#e2242e" stroke-width="0.38" textLength="40.30" lengthAdjust="spacing">UARK 2006 − 66</text>
<text x="458.50" y="417.87" font-family='"Liberation Sans", sans-serif' font-size="5.5" font-weight="normal" fill="#e2242e" stroke="#e2242e" stroke-width="0.38" textLength="18.30" lengthAdjust="spacing">17 / 37</text>
<text x="480.70" y="417.87" font-family='"Liberation Sans", sans-serif' font-size="5.5" font-weight="normal" fill="#e2242e" stroke="#e2242e" stroke-width="0.38" textLength="11.10" lengthAdjust="spacing">56%</text>
<text x="496.40" y="417.87" font-family='"Liberation Sans", sans-serif' font-size="5.5" font-weight="normal" fill="#e2242e" stroke="#e2242e" stroke-width="0.38" textLength="17.70" lengthAdjust="spacing">(39,73)</text>
<text x="425.20" y="424.67" font-family='"Liberation Sans", sans-serif' font-size="5.5" font-weight="normal" fill="#111" stroke="#111" stroke-width="0.38" letter-spacing="0.21" word-spacing="0.50">Logrank P − value = .52</text>
<text x="1.57" y="568.75" font-family='"Liberation Sans", sans-serif' font-size="15.40" font-weight="bold" fill="#000" transform="translate(2.20 0) scale(0.953 1) translate(-2.20 0)">G</text>
<text x="45.75" y="562.32" font-family='"Liberation Serif", serif' font-size="6.7" font-weight="normal" fill="#111" stroke="#111" stroke-width="0.18" textLength="178.00" lengthAdjust="spacingAndGlyphs">Cumulative Incidence of Complete Response for UARK 2003-33 and</text>
<text x="74.50" y="571.22" font-family='"Liberation Serif", serif' font-size="6.7" font-weight="normal" fill="#111" stroke="#111" stroke-width="0.18" textLength="121.75" lengthAdjust="spacingAndGlyphs">UARK 2006-66 High-Risk Patients by Protocol</text>
<path d="M20.50,576.70V707.50H248.75" fill="none" stroke="#111" stroke-width="1.1"/>
<path d="M16.70,707.50H20.50M18.79,694.50H20.50M16.70,681.50H20.50M18.79,668.50H20.50M16.70,655.50H20.50M18.79,642.50H20.50M16.70,629.50H20.50M18.79,616.50H20.50M16.70,603.50H20.50M18.79,590.50H20.50M16.70,577.50H20.50M20.50,705.90V710.30M96.50,705.90V710.30M172.50,705.90V710.30M248.50,705.90V710.30" fill="none" stroke="#111" stroke-width="0.99"/>
<text x="14.00" y="709.59" font-family='"Liberation Serif", serif' font-size="3.9" font-weight="bold" fill="#111" text-anchor="end" letter-spacing="0.25">0%</text>
<text x="14.00" y="683.49" font-family='"Liberation Serif", serif' font-size="3.9" font-weight="bold" fill="#111" text-anchor="end" letter-spacing="0.25">20%</text>
<text x="14.00" y="657.39" font-family='"Liberation Serif", serif' font-size="3.9" font-weight="bold" fill="#111" text-anchor="end" letter-spacing="0.25">40%</text>
<text x="14.00" y="631.29" font-family='"Liberation Serif", serif' font-size="3.9" font-weight="bold" fill="#111" text-anchor="end" letter-spacing="0.25">60%</text>
<text x="14.00" y="605.19" font-family='"Liberation Serif", serif' font-size="3.9" font-weight="bold" fill="#111" text-anchor="end" letter-spacing="0.25">80%</text>
<text x="14.00" y="579.09" font-family='"Liberation Serif", serif' font-size="3.9" font-weight="bold" fill="#111" text-anchor="end" letter-spacing="0.25">100%</text>
<text x="20.80" y="717.29" font-family='"Liberation Serif", serif' font-size="4.8" font-weight="bold" fill="#111" text-anchor="middle" letter-spacing="0">0</text>
<text x="96.85" y="717.29" font-family='"Liberation Serif", serif' font-size="4.8" font-weight="bold" fill="#111" text-anchor="middle" letter-spacing="0">1</text>
<text x="172.90" y="717.29" font-family='"Liberation Serif", serif' font-size="4.8" font-weight="bold" fill="#111" text-anchor="middle" letter-spacing="0">2</text>
<text x="248.95" y="717.29" font-family='"Liberation Serif", serif' font-size="4.8" font-weight="bold" fill="#111" text-anchor="middle" letter-spacing="0">3</text>
<text x="111.90" y="724.16" font-family='"Liberation Serif", serif' font-size="3.8" font-weight="bold" fill="#111" textLength="45.60" lengthAdjust="spacing">Years from Enrollment</text>
<path d="M20.3,707.3 H24.9 V704.6 H26.5 V701.2 H30.3 V699.2 H32.6 V697 H34.2 V694.6 H35.7 V692.3 H37.2 V688.5 H39.5 V686.9 H42.6 V684.6 H45.7 V683.5 H48 V682.3 H49.5 V681.2 H54.9 V679.7 H57.2 V678.2 H64.2 V676.9 H65.7 V674.6 H67.2 V671.5 H71.1 V670 H72.6 V667.7 H76.5 V665.4 H78.8 V662.3 H80.3 V658.5 H82.6 V655.4 H85.7 V654.6 H87.2 V652.3 H88.8 V649.2 H90.3 V644.8 H107.7 V642.4 H148.8 V638.9 H153.8 V635.7 H185 V633.5" fill="none" stroke="#2a26bc" stroke-width="1.3" />
<path d="M20.3,707.3 H24.9 V705.4 H27.2 V703.1 H31.8 V699.2 H33.4 V697 H34.9 V687.7 H36.5 V680.8 H38 V678.5 H39.5 V676.2 H41.1 V673.1 H42.6 V672 H48.8 V670 H55.7 V667.7 H58.8 V663.1 H61.1 V659.2 H71.1 V655.4 H74.2 V652.3 H76.5 V650.8 H78.8 V647.7 H80.3 V644.2 H94 V640.8 H104.2 V638 H106.5 V635.7 H108.8 V633.4 H109.5" fill="none" stroke="#e2242e" stroke-width="1.3" />
<text x="228.80" y="677.49" font-family='"Liberation Serif", serif' font-size="4.2" font-weight="bold" fill="#111" textLength="12.50" lengthAdjust="spacing">2-Year</text>
<text x="202.90" y="683.79" font-family='"Liberation Serif", serif' font-size="4.2" font-weight="bold" fill="#111" textLength="19.20" lengthAdjust="spacing">Events / N</text>
<text x="226.90" y="683.79" font-family='"Liberation Serif", serif' font-size="4.2" font-weight="bold" fill="#111" textLength="16.40" lengthAdjust="spacing">Estimate</text>
<text x="156.70" y="689.59" font-family='"Liberation Serif", serif' font-size="4.2" font-weight="bold" fill="#2a26bc" textLength="29.50" lengthAdjust="spacing">UARK 2003-33</text>
<text x="206.70" y="689.59" font-family='"Liberation Serif", serif' font-size="4.2" font-weight="bold" fill="#2a26bc" textLength="12.50" lengthAdjust="spacing">25 / 40</text>
<text x="230.80" y="689.59" font-family='"Liberation Serif", serif' font-size="4.2" font-weight="bold" fill="#2a26bc" textLength="7.70" lengthAdjust="spacingAndGlyphs">59%</text>
<text x="156.70" y="696.29" font-family='"Liberation Serif", serif' font-size="4.2" font-weight="bold" fill="#e2242e" textLength="29.50" lengthAdjust="spacing">UARK 2006-66</text>
<text x="206.70" y="696.29" font-family='"Liberation Serif", serif' font-size="4.2" font-weight="bold" fill="#e2242e" textLength="12.50" lengthAdjust="spacing">21 / 37</text>
<text x="230.80" y="696.29" font-family='"Liberation Serif", serif' font-size="4.2" font-weight="bold" fill="#e2242e" textLength="7.70" lengthAdjust="spacingAndGlyphs">57%</text>
<text x="194.60" y="703.59" font-family='"Liberation Serif", serif' font-size="4.2" font-weight="bold" fill="#111" textLength="13.10" lengthAdjust="spacing">P = .85</text>
<text x="269.81" y="569.10" font-family='"Liberation Sans", sans-serif' font-size="14.83" font-weight="bold" fill="#000" transform="translate(270.80 0) scale(0.952 1) translate(-270.80 0)">H</text>
<text x="318.00" y="562.44" font-family='"Liberation Sans", sans-serif' font-size="6.4" font-weight="normal" fill="#111" stroke="#111" stroke-width="0.22" letter-spacing="0.25" word-spacing="1.12">CR Duration for UARK 2003 − 33 and UARK 2006 − 66</text>
<text x="345.75" y="571.34" font-family='"Liberation Sans", sans-serif' font-size="6.4" font-weight="normal" fill="#111" stroke="#111" stroke-width="0.22" letter-spacing="0.25" word-spacing="0.87">GEP High − Risk Patients by Protocol</text>
<path d="M289.50,577.30V708.50H518.00" fill="none" stroke="#111" stroke-width="1.1"/>
<path d="M285.30,708.50H289.50M287.61,695.50H289.50M285.30,682.50H289.50M287.61,669.50H289.50M285.30,656.50H289.50M287.61,643.50H289.50M285.30,629.50H289.50M287.61,616.50H289.50M285.30,603.50H289.50M287.61,590.50H289.50M285.30,577.50H289.50M289.50,708.50V712.00M327.50,708.50V710.25M365.50,708.50V712.00M403.50,708.50V710.25M441.50,708.50V712.00M479.50,708.50V710.25M517.50,708.50V712.00" fill="none" stroke="#111" stroke-width="0.99"/>
<text x="283.25" y="711.72" font-family='"Liberation Sans", sans-serif' font-size="4.8" font-weight="bold" fill="#111" stroke="#111" stroke-width="0.15" text-anchor="end" letter-spacing="0.25">0%</text>
<text x="283.25" y="685.54" font-family='"Liberation Sans", sans-serif' font-size="4.8" font-weight="bold" fill="#111" stroke="#111" stroke-width="0.15" text-anchor="end" letter-spacing="0.25">20%</text>
<text x="283.25" y="659.36" font-family='"Liberation Sans", sans-serif' font-size="4.8" font-weight="bold" fill="#111" stroke="#111" stroke-width="0.15" text-anchor="end" letter-spacing="0.25">40%</text>
<text x="283.25" y="633.18" font-family='"Liberation Sans", sans-serif' font-size="4.8" font-weight="bold" fill="#111" stroke="#111" stroke-width="0.15" text-anchor="end" letter-spacing="0.25">60%</text>
<text x="283.25" y="607.00" font-family='"Liberation Sans", sans-serif' font-size="4.8" font-weight="bold" fill="#111" stroke="#111" stroke-width="0.15" text-anchor="end" letter-spacing="0.25">80%</text>
<text x="283.25" y="580.82" font-family='"Liberation Sans", sans-serif' font-size="4.8" font-weight="bold" fill="#111" stroke="#111" stroke-width="0.15" text-anchor="end" letter-spacing="0.25">100%</text>
<text x="289.60" y="718.97" font-family='"Liberation Sans", sans-serif' font-size="4.8" font-weight="bold" fill="#111" stroke="#111" stroke-width="0.15" text-anchor="middle" letter-spacing="0">0</text>
<text x="365.60" y="718.97" font-family='"Liberation Sans", sans-serif' font-size="4.8" font-weight="bold" fill="#111" stroke="#111" stroke-width="0.15" text-anchor="middle" letter-spacing="0">2</text>
<text x="441.60" y="718.97" font-family='"Liberation Sans", sans-serif' font-size="4.8" font-weight="bold" fill="#111" stroke="#111" stroke-width="0.15" text-anchor="middle" letter-spacing="0">4</text>
<text x="517.60" y="718.97" font-family='"Liberation Sans", sans-serif' font-size="4.8" font-weight="bold" fill="#111" stroke="#111" stroke-width="0.15" text-anchor="middle" letter-spacing="0">6</text>
<text x="368.25" y="725.95" font-family='"Liberation Sans", sans-serif' font-size="4.6" font-weight="normal" fill="#111" stroke="#111" stroke-width="0.38" letter-spacing="0.40" word-spacing="0.68">Years from Date of First CR</text>
<path d="M289.8,577.4 H300.3 V582.9 H313.4 V588.6 H324.2 V594 H326.2 V596.8 H329.2 V600.2 H337.2 V605.5 H341.8 V610.9 H345.7 V616.3 H348.5 V622.8 H362.3 V628.2 H375.7 V633.5 H377.7 V634.8 H390.5 V640.5 H427.5 V654.25 H448.75 V667.75 H493.75" fill="none" stroke="#2a26bc" stroke-width="1.3" />
<path d="M289.8,577.4 H295.7 V583.2 H312.6 V589.4 H323.4 V597.1 H328.8 V599.4 H330.3 V614 H331 V621 H369.2 V638.9 H389.2 V672.8" fill="none" stroke="#e2242e" stroke-width="1.3" />
<path d="M402.30,640.50V638.50M405.40,640.50V638.50M411.50,640.50V638.50M422.50,640.50V638.50M454.50,667.75V665.75M464.50,667.75V665.75M493.75,667.75V665.75M352.00,622.80V620.80M355.00,622.80V620.80M378.50,634.80V632.80M380.00,634.80V632.80" stroke="#2a26bc" stroke-width="0.8" fill="none"/>
<path d="M336.50,621.00V619.00M343.40,621.00V619.00M347.20,621.00V619.00M366.20,621.00V619.00M375.70,638.90V636.90M311.80,583.20V581.20M316.00,589.40V587.40" stroke="#e2242e" stroke-width="0.8" fill="none"/>
<text x="493.75" y="581.97" font-family='"Liberation Sans", sans-serif' font-size="5.5" font-weight="normal" fill="#111" stroke="#111" stroke-width="0.38" textLength="19.75" lengthAdjust="spacing">2 − Year</text>
<text x="460.00" y="589.07" font-family='"Liberation Sans", sans-serif' font-size="5.5" font-weight="normal" fill="#111" stroke="#111" stroke-width="0.38" textLength="26.90" lengthAdjust="spacing">Events / N</text>
<text x="493.10" y="589.07" font-family='"Liberation Sans", sans-serif' font-size="5.5" font-weight="normal" fill="#111" stroke="#111" stroke-width="0.38" textLength="20.65" lengthAdjust="spacingAndGlyphs">Estimate</text>
<text x="407.40" y="596.37" font-family='"Liberation Sans", sans-serif' font-size="5.5" font-weight="normal" fill="#2a26bc" stroke="#2a26bc" stroke-width="0.38" textLength="40.60" lengthAdjust="spacing">UARK 2003 − 33</text>
<text x="464.40" y="596.37" font-family='"Liberation Sans", sans-serif' font-size="5.5" font-weight="normal" fill="#2a26bc" stroke="#2a26bc" stroke-width="0.38" textLength="18.10" lengthAdjust="spacing">13 / 23</text>
<text x="488.50" y="596.37" font-family='"Liberation Sans", sans-serif' font-size="5.5" font-weight="normal" fill="#2a26bc" stroke="#2a26bc" stroke-width="0.38" textLength="10.25" lengthAdjust="spacingAndGlyphs">61%</text>
<text x="503.10" y="596.37" font-family='"Liberation Sans", sans-serif' font-size="5.5" font-weight="normal" fill="#2a26bc" stroke="#2a26bc" stroke-width="0.38" textLength="16.30" lengthAdjust="spacingAndGlyphs">(41,81)</text>
<text x="407.40" y="603.72" font-family='"Liberation Sans", sans-serif' font-size="5.5" font-weight="normal" fill="#e2242e" stroke="#e2242e" stroke-width="0.38" textLength="40.60" lengthAdjust="spacing">UARK 2006 − 66</text>
<text x="466.25" y="603.72" font-family='"Liberation Sans", sans-serif' font-size="5.5" font-weight="normal" fill="#e2242e" stroke="#e2242e" stroke-width="0.38" textLength="15.00" lengthAdjust="spacing">8 / 21</text>
<text x="488.50" y="603.72" font-family='"Liberation Sans", sans-serif' font-size="5.5" font-weight="normal" fill="#e2242e" stroke="#e2242e" stroke-width="0.38" textLength="10.25" lengthAdjust="spacingAndGlyphs">68%</text>
<text x="503.10" y="603.72" font-family='"Liberation Sans", sans-serif' font-size="5.5" font-weight="normal" fill="#e2242e" stroke="#e2242e" stroke-width="0.38" textLength="16.90" lengthAdjust="spacingAndGlyphs">(44,86)</text>
<text x="431.20" y="610.57" font-family='"Liberation Sans", sans-serif' font-size="5.5" font-weight="normal" fill="#111" stroke="#111" stroke-width="0.38" letter-spacing="0.21" word-spacing="0.03">Logrank P − value = .54</text>
</svg>
</body></html>
